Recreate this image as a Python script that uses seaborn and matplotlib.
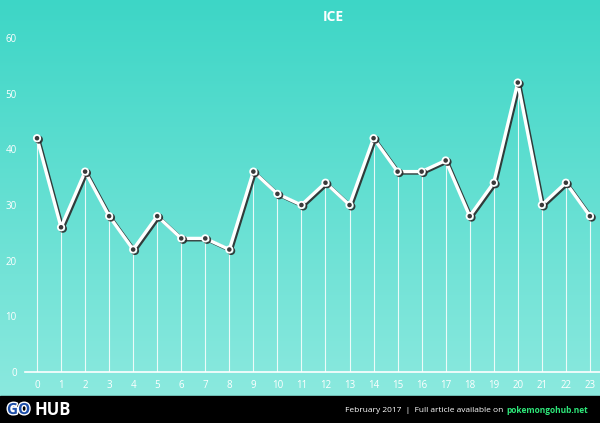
import numpy as np
import pandas as pd
import matplotlib
matplotlib.use("Agg")
import matplotlib.pyplot as plt
import matplotlib.patheffects as pe
import seaborn as sns

hours = list(range(24))
values = [42, 26, 36, 28, 22, 28, 24, 24, 22, 36, 32, 30, 34, 30, 42, 36, 36, 38, 28, 34, 52, 30, 34, 28]
yticks = [0, 10, 20, 30, 40, 50, 60]
title = "ICE"

sns.set_theme(style="white")
plt.rcParams['font.family'] = ['Open Sans', 'DejaVu Sans']

W, H = 600, 423
fig = plt.figure(figsize=(6, 4.23), dpi=100)

# background gradient
bg = fig.add_axes([0, 0, 1, 1], zorder=-5)
grad = np.linspace(0, 1, 256).reshape(-1, 1)
top = np.array([0x3d, 0xd6, 0xc6]) / 255
bot = np.array([0x90, 0xea, 0xe0]) / 255
img = top[None, None, :] * (1 - grad[..., None]) + bot[None, None, :] * grad[..., None]
bg.imshow(img, aspect='auto', extent=[0, 1, 0, 1])
bg.set_xlim(0, 1); bg.set_ylim(0, 1)
bg.axis('off')
bg.add_patch(plt.Rectangle((0, 0), 1, 27 / H, color='black', zorder=2))

# plot area
x0, x1 = 25 / W, 1.0
y0, y1 = (H - 372) / H, (H - 38) / H
ax = fig.add_axes([x0, y0, x1 - x0, y1 - y0])
ax.patch.set_alpha(0)
df = pd.DataFrame({"hour": hours, "value": values})

ax.vlines(df["hour"], 0, df["value"], color='white', lw=0.8, alpha=0.85, zorder=1)

sns.lineplot(data=df, x="hour", y="value", ax=ax, color='white', lw=2.4,
             marker='o', markersize=4.6, markerfacecolor='#3a3a3a',
             markeredgecolor='white', markeredgewidth=1.3, zorder=3)
line = ax.lines[-1]
line.set_path_effects([pe.SimpleLineShadow(offset=(1.3, -1.0), shadow_color='#2a2a2a', alpha=0.9),
                       pe.Normal()])

ax.set_xlim(-0.5, 23.42)
ax.set_ylim(0, 60)
ax.set_xticks(hours)
ax.set_xticklabels([str(h) for h in hours])
ax.set_yticks(yticks)
ax.set_yticklabels([str(t) for t in yticks])
ax.set_xlabel(""); ax.set_ylabel("")
for s in ['top', 'right', 'left']:
    ax.spines[s].set_visible(False)
ax.spines['bottom'].set_color('white')
ax.spines['bottom'].set_linewidth(1.2)
ax.tick_params(axis='x', colors='white', labelsize=7, length=0, pad=6)
ax.tick_params(axis='y', colors='white', labelsize=7, length=0, pad=6)
ax.grid(False)

fig.text(0.5 + 33 / W, 1 - 17 / H, title, color='white', fontsize=10, fontweight='bold',
         ha='center', va='center')

# footer
fig.text(7 / W, 13 / H, "GO", color='#1e4fa8', fontsize=11, fontweight='bold', va='center',
         path_effects=[pe.withStroke(linewidth=2, foreground='white')])
fig.text(34 / W, 13 / H, "HUB", color='white', fontsize=12, fontweight='bold', va='center')
t2 = fig.text(588 / W, 13 / H, "pokemongohub.net", color='#2ee87a', fontsize=6.0,
              fontweight='bold', ha='right', va='center')
fig.canvas.draw()
bb = t2.get_window_extent(fig.canvas.get_renderer())
fig.text((bb.x0 - 3) / W, 13 / H, "February 2017  |  Full article available on", color='white',
         fontsize=6.0, ha='right', va='center')

fig.savefig("out.png", dpi=100)
